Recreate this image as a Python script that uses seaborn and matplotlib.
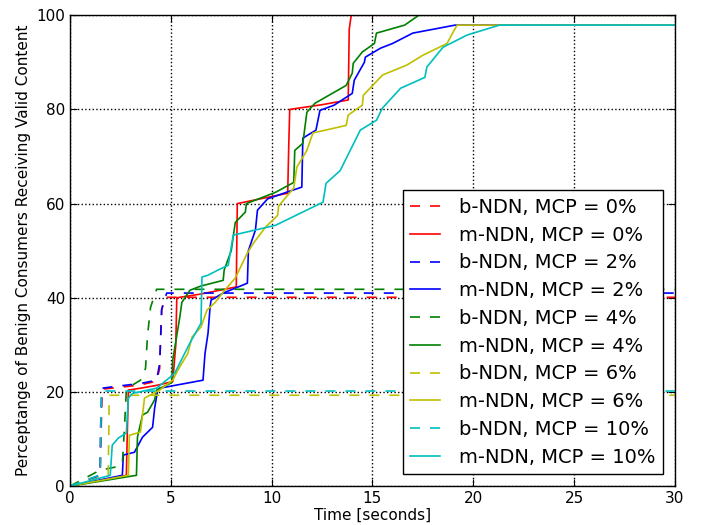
import matplotlib
matplotlib.use("Agg")
import matplotlib.pyplot as plt
import seaborn as sns

# time (s) / percentage of benign consumers receiving valid content
b0_t = [0, 1.5, 1.55, 1.6, 2.5, 3.5, 4.3, 4.45, 4.55, 4.7, 30]
b0_v = [0, 2.3, 12, 20.6, 21.0, 21.5, 22.3, 25, 37.4, 40.1, 40.1]
m0_t = [0, 2.8, 2.85, 2.9, 3.5, 4.3, 5.1, 5.25, 5.3, 6.5, 8.25, 8.3, 10.8, 10.85, 10.9,
        12.5, 13.8, 13.85, 13.95, 30]
m0_v = [0, 2.3, 12, 20.4, 20.8, 21.4, 22.2, 30, 40, 40.8, 42.3, 60, 62.2, 72, 80,
        81, 82, 97, 100, 100]

b2_t = [0, 1.5, 1.52, 1.58, 2.5, 3.5, 4.3, 4.45, 4.55, 4.8, 30]
b2_v = [0, 2.3, 12, 20.8, 21.3, 21.8, 22.5, 26, 37.5, 41, 41]
m2_t = [0, 2.6, 2.65, 3.2, 3.6, 4.1, 4.2, 4.35, 4.45, 6.6, 6.7, 6.85, 6.95, 7.0, 7.6,
        8.8, 8.85, 9.2, 9.3, 9.8, 10.8, 11.5, 11.55, 12.2, 12.4, 13.1, 14.0, 14.1,
        14.6, 14.65, 15.4, 16.0, 17.0, 19.1, 30]
m2_v = [0, 2.3, 6.6, 7.2, 10.4, 12.5, 16.5, 20.4, 20.8, 22.5, 28.2, 32.5, 38, 39.5, 41,
        43.1, 50, 54.4, 58.6, 61, 62.5, 63.5, 73.9, 75.6, 79.8, 80.9, 83.4, 86.2,
        90, 91.1, 93, 94, 96.2, 97.9, 97.9]

b4_t = [0, 1.5, 2.2, 2.6, 2.7, 2.8, 3.0, 3.5, 3.75, 3.85, 4.0, 4.3, 30]
b4_v = [0, 3.4, 4.0, 4.6, 12, 20.4, 21.2, 22.5, 25, 32, 38, 41.8, 41.8]
m4_t = [0, 3.3, 3.35, 3.6, 3.85, 4.2, 4.3, 5.05, 5.1, 5.45, 5.55, 5.95, 6.5, 7.6, 7.65,
        8.0, 8.2, 8.7, 8.75, 10.2, 11.1, 11.15, 11.55, 11.75, 12.15, 13.7, 14.0,
        14.05, 14.5, 15.1, 15.2, 16.6, 17.3, 30]
m4_v = [0, 2.3, 10.4, 15.1, 15.7, 18.3, 20.4, 22, 26.8, 35.9, 39, 41.6, 42.5, 43.7, 45.9,
        50, 56, 58.2, 60, 62.4, 64.5, 71.3, 72.8, 79.4, 81.3, 85.1, 87.7,
        89.8, 92.2, 94, 96.2, 97.9, 100, 100]

b6_t = [0, 1.9, 1.93, 1.95, 30]
b6_v = [0, 2.3, 12, 19.3, 19.3]
m6_t = [0, 2.9, 2.95, 3.5, 3.7, 4.45, 5.1, 5.35, 5.85, 6.05, 6.5, 6.8, 7.2, 7.6, 8.2,
        8.8, 9.1, 9.7, 10.3, 10.35, 11.1, 11.25, 11.75, 12.05, 13.7, 13.8, 14.5,
        14.55, 15.5, 16.7, 17.5, 18.7, 19.0, 19.2, 30]
m6_v = [0, 2.3, 10.8, 11.5, 18.7, 20.4, 22.5, 24.6, 28.2, 31.6, 33.8, 37.4, 39, 41.2, 44.2,
        49.5, 51.6, 55, 57.5, 59.5, 63.3, 67.7, 71.3, 75, 76.6, 78.8, 80.9,
        83, 87.3, 89.4, 91.5, 94, 96.4, 97.9, 97.9]

b10_t = [0, 1.5, 1.53, 1.57, 30]
b10_v = [0, 2.4, 12, 20.2, 20.2]
m10_t = [0, 2.0, 2.1, 2.4, 2.8, 2.9, 3.1, 4.3, 5.1, 5.2, 5.95, 6.5, 6.55, 6.85, 7.35,
         7.85, 8.1, 10.2, 12.55, 12.7, 13.4, 14.4, 15.2, 15.5, 16.4, 17.6, 17.7,
         18.5, 19.7, 21.3, 30]
m10_v = [0, 2.3, 8.7, 10.2, 11.3, 18.7, 19.7, 20.8, 23.6, 24, 30.4, 34.6, 44.4, 44.8, 45.9,
         46.9, 53.3, 55.4, 60.3, 64.3, 67, 75.6, 77.7, 80.3, 84.5, 86.8, 89,
         93.2, 95.8, 97.9, 97.9]

mcp_levels = ["0", "2", "4", "6", "10"]
colors = ["r", "b", "g", "y", "c"]
b_series = [(b0_t, b0_v), (b2_t, b2_v), (b4_t, b4_v), (b6_t, b6_v), (b10_t, b10_v)]
m_series = [(m0_t, m0_v), (m2_t, m2_v), (m4_t, m4_v), (m6_t, m6_v), (m10_t, m10_v)]

plt.rcParams["lines.dashed_pattern"] = [6, 6]
plt.rcParams["font.family"] = "DejaVu Sans"

fig = plt.figure(figsize=(7.06, 5.25), dpi=100)
ax = fig.add_axes([0.099, 0.074, 0.857, 0.897])

for mcp, color, (bt, bv), (mt, mv) in zip(mcp_levels, colors, b_series, m_series):
    sns.lineplot(x=bt, y=bv, color=color, linestyle="--", lw=1.2, sort=False,
                 estimator=None, ax=ax, label=f"b-NDN, MCP = {mcp}%")
    sns.lineplot(x=mt, y=mv, color=color, linestyle="-", lw=1.2, sort=False,
                 estimator=None, ax=ax, label=f"m-NDN, MCP = {mcp}%")

ax.set_xlim(0, 30)
ax.set_ylim(0, 100)
ax.set_xticks(range(0, 31, 5))
ax.set_yticks(range(0, 101, 20))
ax.grid(True, linestyle=":", color="k", linewidth=1)
ax.tick_params(direction="in", top=True, right=True, length=5, labelsize=11)
for s in ax.spines.values():
    s.set_color("k")
    s.set_linewidth(1)

ax.set_xlabel("Time [seconds]", fontsize=11, labelpad=1)
ax.set_ylabel("Perceptange of Benign Consumers Receiving Valid Content", fontsize=11, labelpad=4)

leg = ax.legend(loc="lower right", fontsize=14, fancybox=False, framealpha=1,
                edgecolor="k", handlelength=1.5, handletextpad=1.0,
                labelspacing=0.45, borderaxespad=0.6)
leg.get_frame().set_linewidth(1)

plt.savefig("out.png", dpi=100)
